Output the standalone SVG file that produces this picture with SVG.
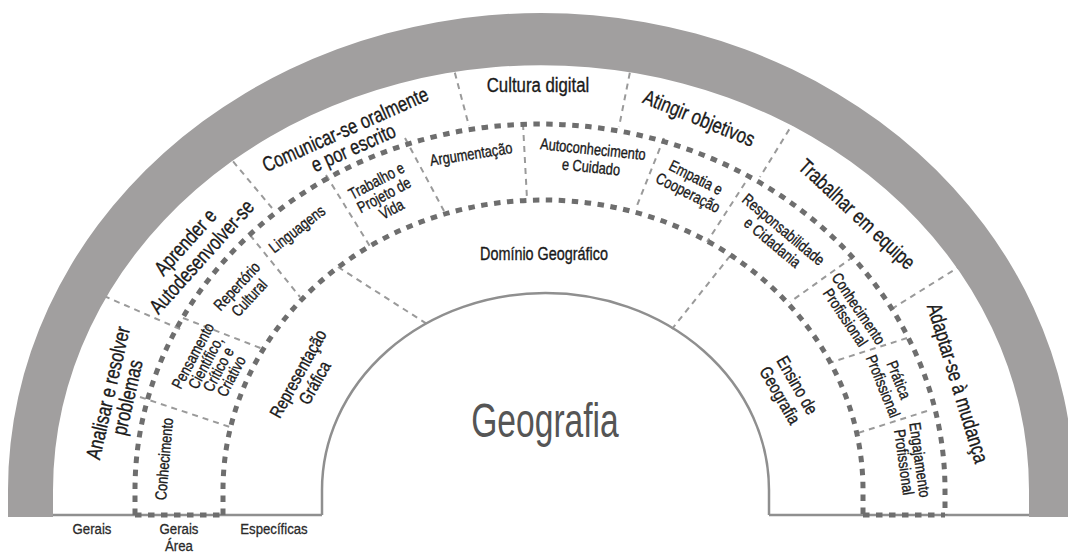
<svg xmlns="http://www.w3.org/2000/svg" width="1068" height="553" viewBox="0 0 1068 553">
<style>
  .t { font-family: "Liberation Sans", Arial, sans-serif; fill: #1a1a1a; stroke: #1a1a1a; stroke-width: 0.35; text-anchor: middle; dominant-baseline: central; }
  .r1 { font-size: 21px; }
  .r2 { font-size: 16px; }
  .r3 { font-size: 18px; }
  .lbl { font-family: "Liberation Sans", Arial, sans-serif; font-size: 15px; fill: #2a2a2a; stroke: #2a2a2a; stroke-width: 0.3; text-anchor: middle; }
  .title { font-family: "Liberation Sans", Arial, sans-serif; font-size: 48px; fill: #555; text-anchor: middle; }
  .dot { fill: none; stroke: #6e6e6e; stroke-width: 5; stroke-dasharray: 6.5 6.5; }
  .div { fill: none; stroke: #9a9a9a; stroke-width: 2; stroke-dasharray: 6 5; }
  .thin { fill: none; stroke: #8f8f8f; stroke-width: 2.5; }
</style>

<rect width="1068" height="553" fill="#ffffff"/>

<g id="connectors">
  <!-- ring 1 dividers -->
  <path class="div" d="M104 296 L182 330"/>
  <path class="div" d="M226 153 L272 208"/>
  <path class="div" d="M452 62 L469 126"/>
  <path class="div" d="M632 62 L619 127"/>
  <path class="div" d="M795 120 L760 177"/>
  <path class="div" d="M962 265 L890 310"/>
  <!-- ring 2 dividers -->
  <path class="div" d="M140 397 L230 427"/>
  <path class="div" d="M183 318 L263 349"/>
  <path class="div" d="M250 235 L300 297"/>
  <path class="div" d="M326 175 L371 248"/>
  <path class="div" d="M405 138 L444 211"/>
  <path class="div" d="M523 124 L527 199"/>
  <path class="div" d="M664 138 L636 208"/>
  <path class="div" d="M745 183 L707 242"/>
  <path class="div" d="M853 257 L790 302"/>
  <path class="div" d="M907 338 L832 362"/>
  <path class="div" d="M927 411 L858 433"/>
  <!-- ring 3 dividers -->
  <path class="div" d="M338 267 L427 324"/>
  <path class="div" d="M730 256 L672 329"/>
</g>

<g id="band">
  <path d="M8 517 L8 490 A533 477 0 0 1 1074 490 L1074 517 L1029 517 L1029 490 A488 425 0 0 0 53 490 L53 517 Z" fill="#a19f9f"/>
</g>

<g id="rings">
  <path class="thin" d="M53 515 L322 515 M769 515 L1029 515" stroke-width="2"/>
  <path class="thin" d="M322 515 L322 490 A223.5 197 0 0 1 769 490 L769 515"/>
  <path class="dot" d="M135 515 L135 490 A405 366 0 0 1 945 490 L945 515"/>
  <path class="dot" d="M223 515 L223 490 A320 290 0 0 1 863 490 L863 515"/>
  <path class="dot" d="M135 515 L223 515 M863 515 L945 515"/>
</g>

<g id="n-analisar"><text class="t r1" font-size="20" transform="translate(117,395) rotate(-77) scale(0.78,1)"><tspan x="0" y="-10">Analisar e resolver</tspan><tspan x="0" y="10">problemas</tspan></text></g>
<g id="n-aprender"><text class="t r1" font-size="19.5" transform="translate(193,249) rotate(-48) scale(0.78,1)"><tspan x="0" y="-11">Aprender e</tspan><tspan x="0" y="11">Autodesenvolver-se</tspan></text></g>
<g id="n-comunicar"><text class="t r1" transform="translate(349,138) rotate(-24) scale(0.78,1)"><tspan x="0" y="-10">Comunicar-se oralmente</tspan><tspan x="0" y="10">e por escrito</tspan></text></g>
<g id="n-cultura"><text class="t r1" font-size="22" transform="translate(538,85) scale(0.8,1)">Cultura digital</text></g>
<g id="n-atingir"><text class="t r1" font-size="22" transform="translate(699,118) rotate(22) scale(0.8,1)">Atingir objetivos</text></g>
<g id="n-trabalhar"><text class="t r1" transform="translate(857,214) rotate(43) scale(0.78,1)">Trabalhar em equipe</text></g>
<g id="n-adaptar"><text class="t r1" font-size="20" transform="translate(958,383) rotate(73) scale(0.78,1)">Adaptar-se à mudança</text></g>

<g id="n-conhecimento"><text class="t r2" font-size="15.5" transform="translate(164,459) rotate(-85) scale(0.8,1)">Conhecimento</text></g>
<g id="n-pensamento"><text class="t r2" font-size="15" transform="translate(212,366) rotate(-62) scale(0.8,1)"><tspan x="0" y="-21.75">Pensamento</tspan><tspan x="0" y="-7.25">Científico,</tspan><tspan x="0" y="7.25">Crítico e</tspan><tspan x="0" y="21.75">Criativo</tspan></text></g>
<g id="n-repertorio"><text class="t r2" transform="translate(243,292) rotate(-47) scale(0.8,1)"><tspan x="0" y="-8.5">Repertório</tspan><tspan x="0" y="8.5">Cultural</tspan></text></g>
<g id="n-linguagens"><text class="t r2" transform="translate(297,229) rotate(-38) scale(0.8,1)">Linguagens</text></g>
<g id="n-trabalho"><text class="t r2" font-size="15" transform="translate(384,195) rotate(-28) scale(0.8,1)"><tspan x="0" y="-16">Trabalho e</tspan><tspan x="0" y="0">Projeto de</tspan><tspan x="0" y="16">Vida</tspan></text></g>
<g id="n-argumentacao"><text class="t r2" transform="translate(471,154) rotate(-9) scale(0.8,1)">Argumentação</text></g>
<g id="n-autoconhecimento"><text class="t r2" transform="translate(592,158) rotate(6) scale(0.8,1)"><tspan x="0" y="-9">Autoconhecimento</tspan><tspan x="0" y="9">e Cuidado</tspan></text></g>
<g id="n-empatia"><text class="t r2" transform="translate(692,185) rotate(27) scale(0.8,1)"><tspan x="0" y="-8.5">Empatia e</tspan><tspan x="0" y="8.5">Cooperação</tspan></text></g>
<g id="n-responsabilidade"><text class="t r2" font-size="15.5" transform="translate(778,236) rotate(40) scale(0.8,1)"><tspan x="0" y="-8.5">Responsabilidade</tspan><tspan x="0" y="8.5">e Cidadania</tspan></text></g>
<g id="n-conhecimento-prof"><text class="t r2" font-size="15" transform="translate(852,313) rotate(56) scale(0.8,1)"><tspan x="0" y="-8">Conhecimento</tspan><tspan x="0" y="8">Profissional</tspan></text></g>
<g id="n-pratica"><text class="t r2" font-size="15" transform="translate(891,383) rotate(68) scale(0.8,1)"><tspan x="0" y="-8.5">Prática</tspan><tspan x="0" y="8.5">Profissional</tspan></text></g>
<g id="n-engajamento"><text class="t r2" font-size="15" transform="translate(912,461) rotate(82) scale(0.8,1)"><tspan x="0" y="-8">Engajamento</tspan><tspan x="0" y="8">Profissional</tspan></text></g>

<g id="n-representacao"><text class="t r3" transform="translate(306,378) rotate(-61) scale(0.8,1)"><tspan x="0" y="-9.5">Representação</tspan><tspan x="0" y="9.5">Gráfica</tspan></text></g>
<g id="n-dominio"><text class="t r3" font-size="20.5" transform="translate(544,253) scale(0.8,1)">Domínio Geográfico</text></g>
<g id="n-ensino"><text class="t r3" transform="translate(789,390) rotate(60) scale(0.8,1)"><tspan x="0" y="-10">Ensino de</tspan><tspan x="0" y="10">Geografia</tspan></text></g>

<g id="n-geografia"><text class="title" transform="translate(545,437) scale(0.7,1)">Geografia</text></g>

<g id="legend">
  <text class="lbl" transform="translate(92,534) scale(0.88,1)">Gerais</text>
  <text class="lbl" transform="translate(179,534) scale(0.88,1)">Gerais</text>
  <text class="lbl" transform="translate(179,551) scale(0.88,1)">Área</text>
  <text class="lbl" transform="translate(274,534) scale(0.88,1)">Específicas</text>
</g>
</svg>
